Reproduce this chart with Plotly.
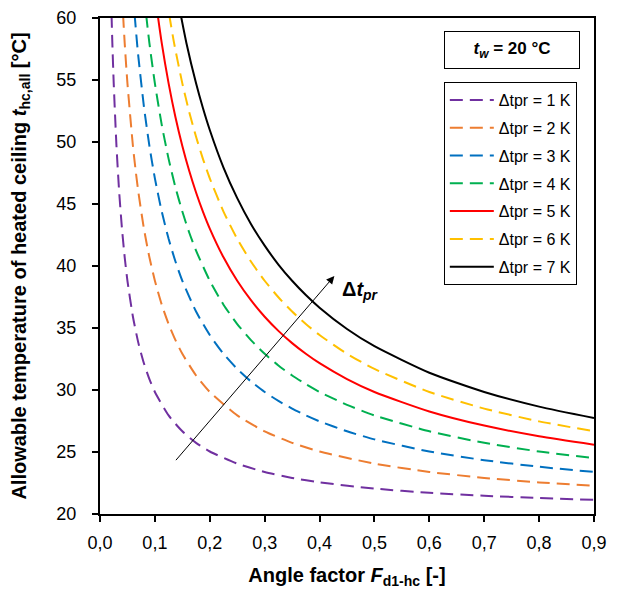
import plotly.graph_objects as go

# ---- data ----
names = ["Δtpr = 1 K", "Δtpr = 2 K", "Δtpr = 3 K", "Δtpr = 4 K",
         "Δtpr = 5 K", "Δtpr = 6 K", "Δtpr = 7 K"]

F_1 = [0.02, 0.0225, 0.025, 0.03, 0.035, 0.04, 0.045, 0.05, 0.06, 0.07, 0.08, 0.09, 0.1, 0.125, 0.15,
       0.175, 0.2, 0.25, 0.3, 0.35, 0.4, 0.5, 0.6, 0.7, 0.8, 0.9]
t_1 = [61.89, 57.97, 54.73, 49.68, 45.93, 43.02, 40.70, 38.81, 35.91, 33.78, 32.16, 30.88, 29.84, 27.95, 26.67,
       25.74, 25.04, 24.06, 23.39, 22.91, 22.55, 22.05, 21.71, 21.47, 21.29, 21.14]

F_2 = [0.04, 0.045, 0.05, 0.06, 0.065, 0.07, 0.08, 0.09, 0.1, 0.1125, 0.125, 0.1375, 0.15, 0.175, 0.2,
       0.25, 0.3, 0.35, 0.4, 0.5, 0.6, 0.7, 0.8, 0.9]
t_2 = [61.89, 57.97, 54.73, 49.68, 47.68, 45.93, 43.02, 40.70, 38.81, 36.88, 35.32, 34.02, 32.92, 31.17, 29.84,
       27.95, 26.67, 25.74, 25.04, 24.06, 23.39, 22.91, 22.55, 22.27]

F_3 = [0.06, 0.0675, 0.07, 0.08, 0.09, 0.1, 0.1125, 0.125, 0.1375, 0.15, 0.175, 0.2, 0.225, 0.25, 0.275,
       0.3, 0.325, 0.35, 0.375, 0.4, 0.45, 0.5, 0.6, 0.7, 0.8, 0.9]
t_3 = [61.89, 57.97, 56.82, 52.86, 49.68, 47.07, 44.39, 42.19, 40.36, 38.81, 36.33, 34.43, 32.92, 31.70, 30.69,
       29.84, 29.12, 28.50, 27.95, 27.47, 26.67, 26.02, 25.04, 24.34, 23.81, 23.39]

F_4 = [0.08, 0.09, 0.1, 0.1125, 0.125, 0.1375, 0.15, 0.1625, 0.175, 0.2, 0.225, 0.25, 0.275, 0.3, 0.325,
       0.35, 0.375, 0.4, 0.45, 0.5, 0.6, 0.7, 0.8, 0.9]
t_4 = [61.89, 57.97, 54.73, 51.38, 48.64, 46.34, 44.39, 42.70, 41.24, 38.81, 36.88, 35.32, 34.02, 32.92, 31.98,
       31.17, 30.47, 29.84, 28.80, 27.95, 26.67, 25.74, 25.04, 24.50]

F_5 = [0.1, 0.1125, 0.125, 0.1375, 0.15, 0.1625, 0.175, 0.1875, 0.2, 0.225, 0.25, 0.275, 0.3, 0.325, 0.35,
       0.375, 0.4, 0.45, 0.5, 0.6, 0.7, 0.8, 0.9]
t_5 = [61.89, 57.97, 54.73, 52.00, 49.68, 47.68, 45.93, 44.39, 43.02, 40.70, 38.81, 37.24, 35.91, 34.77, 33.78,
       32.92, 32.16, 30.88, 29.84, 28.27, 27.13, 26.27, 25.59]

F_6 = [0.12, 0.135, 0.15, 0.1625, 0.175, 0.1875, 0.2, 0.225, 0.25, 0.275, 0.3, 0.325, 0.35, 0.375, 0.4,
       0.45, 0.5, 0.6, 0.7, 0.8, 0.9]
t_6 = [61.89, 57.97, 54.73, 52.43, 50.42, 48.64, 47.07, 44.39, 42.19, 40.36, 38.81, 37.48, 36.33, 35.32, 34.43,
       32.92, 31.70, 29.84, 28.50, 27.47, 26.67]

F_7 = [0.14, 0.1575, 0.175, 0.1875, 0.2, 0.225, 0.25, 0.275, 0.3, 0.325, 0.35, 0.375, 0.4, 0.45, 0.5,
       0.6, 0.7, 0.8, 0.9]
t_7 = [61.89, 57.97, 54.73, 52.74, 50.97, 47.94, 45.47, 43.39, 41.64, 40.12, 38.81, 37.66, 36.64, 34.92, 33.53,
       31.39, 29.84, 28.66, 27.74]

series_F = [F_1, F_2, F_3, F_4, F_5, F_6, F_7]
series_t = [t_1, t_2, t_3, t_4, t_5, t_6, t_7]

colors = ["#7030A0", "#ED7D31", "#0070C0", "#00B050", "#FF0000", "#FFC000", "#000000"]
dashes = ["13px,7px", "13px,7px", "13px,7px", "13px,7px", "solid", "13px,7px", "solid"]

x_ticks = [0.0, 0.1, 0.2, 0.3, 0.4, 0.5, 0.6, 0.7, 0.8, 0.9]
y_ticks = [20, 25, 30, 35, 40, 45, 50, 55, 60]

FONT = "Liberation Sans, Arial, sans-serif"

fig = go.Figure()
for i, (F, t, name, c, d) in enumerate(zip(series_F, series_t, names, colors, dashes)):
    fig.add_trace(go.Scatter(
        x=F, y=t, name=name, mode="lines", legendgroup=f"g{i}",
        line=dict(color=c, width=2, dash=d, shape="spline", smoothing=0.6),
    ))

# arrow indicating increasing Δt_pr
fig.add_annotation(
    x=0.427, y=39.2, ax=0.136, ay=24.22, xref="x", yref="y", axref="x", ayref="y",
    showarrow=True, arrowhead=2, arrowsize=1.6, arrowwidth=1, arrowcolor="black", text="",
)
fig.add_annotation(
    x=0.475, y=38.0, xref="x", yref="y", showarrow=False,
    text="<b>Δ<i>t</i><sub><i>pr</i></sub></b>",
    font=dict(family=FONT, size=20, color="black"),
)
# t_w box
fig.add_annotation(
    x=0.8343, y=0.9355, xref="paper", yref="paper", xanchor="center", yanchor="middle",
    showarrow=False,
    text="<b><i>t</i><sub><i>w</i></sub> = 20 °C</b>",
    font=dict(family=FONT, size=17, color="black"),
    bordercolor="black", borderwidth=1, borderpad=0, width=134, height=36, bgcolor="white",
)

# the page body adds an 8px margin, so the figure is 8px smaller and margins are shifted
fig.update_layout(
    width=610, height=596,
    margin=dict(l=91.5, r=23.5, t=10, b=90, autoexpand=False),
    paper_bgcolor="white", plot_bgcolor="white",
    separators=",.",
    font=dict(family=FONT, size=18, color="black"),
    showlegend=True,
    legend=dict(
        x=0.696, y=0.871, xanchor="left", yanchor="top",
        bordercolor="black", borderwidth=1, bgcolor="white",
        font=dict(family=FONT, size=16, color="black"),
        itemwidth=44, tracegroupgap=4,
    ),
    xaxis=dict(
        range=[0, 0.9], tickvals=x_ticks, tickformat=".1f", automargin=False,
        showgrid=False, zeroline=False,
        showline=True, linecolor="black", linewidth=2, mirror=True,
        ticks="outside", ticklen=6, tickwidth=1.5, tickcolor="black",
        ticklabelstandoff=5,
        title=dict(text="<b>Angle factor <i>F</i><sub>d1-hc</sub> [-]</b>",
                   font=dict(family=FONT, size=20), standoff=16),
    ),
    yaxis=dict(
        range=[20, 60], tickvals=y_ticks, automargin=False,
        showgrid=False, zeroline=False,
        showline=True, linecolor="black", linewidth=2, mirror=True,
        ticks="outside", ticklen=6, tickwidth=1.5, tickcolor="black",
        ticklabelstandoff=12,
        title=dict(text="<b>Allowable temperature of heated ceiling <i>t</i><sub>hc,all</sub> [°C]</b>",
                   font=dict(family=FONT, size=20), standoff=29),
    ),
)

fig.write_html("out.html")
